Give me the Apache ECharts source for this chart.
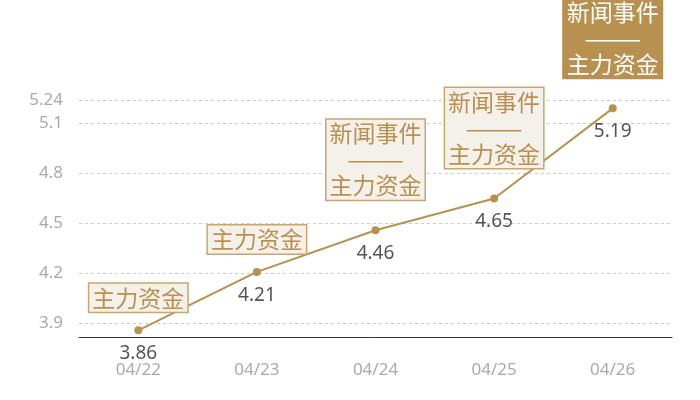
<!DOCTYPE html>
<html>
<head>
<meta charset="utf-8">
<script src="https://cdn.jsdelivr.net/npm/echarts@6/dist/echarts.min.js"></script>
<style>
  html, body { margin: 0; padding: 0; background: #fff; }
  #main { width: 700px; height: 400px; }
</style>
</head>
<body>
<div id="main"></div>
<script>
// 数据
const dates = ["04/22", "04/23", "04/24", "04/25", "04/26"];
const prices = [3.86, 4.21, 4.46, 4.65, 5.19];
const notes = ["主力资金", "主力资金", "新闻事件\n———\n主力资金", "新闻事件\n———\n主力资金", "新闻事件\n———\n主力资金"];
const highlight = [false, false, false, false, true];

const gold = "#b8904f";

// 标注框
function noteLabel(i) {
  const multi = notes[i].indexOf("\n") >= 0;
  const hi = highlight[i];
  return {
    show: true,
    position: "top",
    distance: multi ? 30 : 18,
    formatter: notes[i],
    fontFamily: "Noto Sans CJK SC",
    fontSize: 23,
    lineHeight: 26,
    color: hi ? "#fff" : gold,
    backgroundColor: hi ? gold : "#f4f0ea",
    borderColor: hi ? gold : "#caa66d",
    borderWidth: 1.5,
    padding: [1, 3, 1, 3]
  };
}

const noteData = prices.map((v, i) => ({value: v, label: noteLabel(i)}));

const option = {
  animation: false,
  grid: {left: 79, right: 28, top: 100, bottom: 63},
  xAxis: {
    type: "category",
    data: dates,
    axisLine: {lineStyle: {color: "#333", width: 1}},
    axisTick: {show: false},
    axisLabel: {color: "#aaa", fontSize: 17, margin: 25, fontFamily: "Noto Sans"}
  },
  yAxis: {
    type: "value",
    min: 3.82,
    max: 5.24,
    axisLine: {show: false},
    axisTick: {show: false},
    axisLabel: {color: "#aaa", fontSize: 17, margin: 16, fontFamily: "Noto Sans"},
    splitLine: {lineStyle: {color: "#ccc", type: [3, 3]}}
  },
  series: [
    {
      type: "line",
      data: prices,
      symbol: "circle",
      symbolSize: 8,
      itemStyle: {color: gold},
      lineStyle: {color: gold, width: 2},
      label: {
        show: true,
        position: "bottom",
        distance: 10,
        color: "#555",
        fontSize: 19,
        fontFamily: "Noto Sans"
      },
      z: 3
    },
    {
      type: "scatter",
      data: noteData,
      symbolSize: 1,
      itemStyle: {color: "rgba(0,0,0,0)", opacity: 1},
      silent: true,
      z: 4
    }
  ]
};

echarts.init(document.getElementById("main")).setOption(option);
</script>
</body>
</html>
